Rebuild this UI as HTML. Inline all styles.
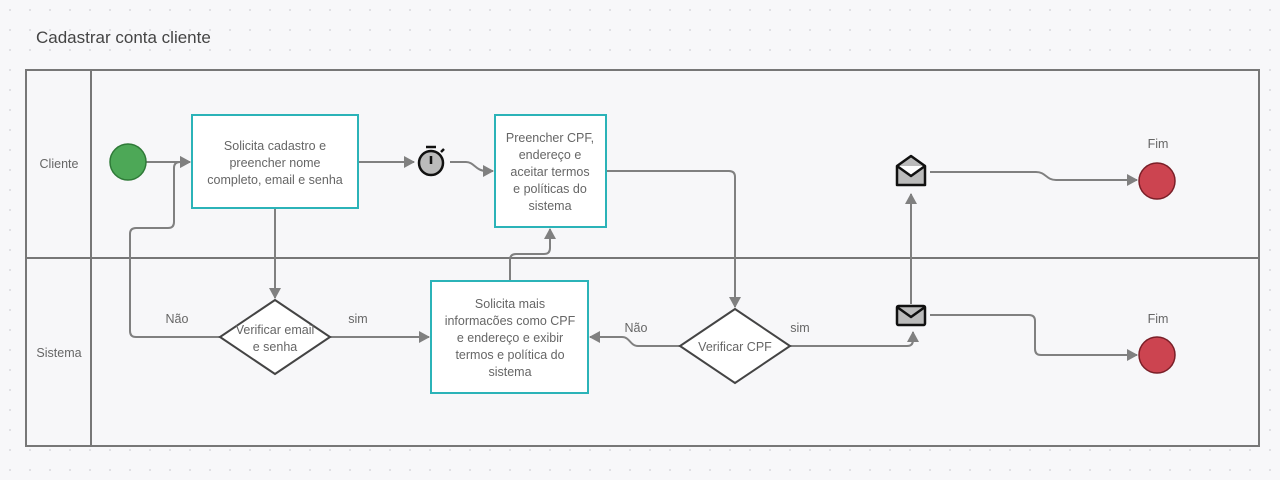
<!DOCTYPE html>
<html><head><meta charset="utf-8"><style>
body{margin:0;width:1280px;height:480px;overflow:hidden;background:#f7f7f9;}
svg{display:block;font-family:"Liberation Sans",sans-serif;}
</style></head><body>
<svg width="1280" height="480" viewBox="0 0 1280 480">
<defs>
<pattern id="dots" width="20" height="20" patternUnits="userSpaceOnUse"><circle cx="10" cy="10" r="1" fill="#d8d8de"/></pattern>
<marker id="a" markerWidth="12" markerHeight="12" refX="10" refY="6" orient="auto" markerUnits="userSpaceOnUse"><path d="M0,0 L11,6 L0,12 z" fill="#808080"/></marker>
</defs>
<rect width="1280" height="480" fill="#f7f7f9"/>
<rect width="1280" height="480" fill="url(#dots)"/>
<text x="36" y="43" font-size="17" fill="#444">Cadastrar conta cliente</text>
<rect x="26" y="70" width="1233" height="376" fill="#f7f7f9" stroke="#777" stroke-width="2"/>
<line x1="91" y1="70" x2="91" y2="446" stroke="#777" stroke-width="2"/>
<line x1="26" y1="258" x2="1259" y2="258" stroke="#777" stroke-width="2"/>
<g font-size="12.5" fill="#666" text-anchor="middle">
<text x="59" y="168">Cliente</text>
<text x="59" y="357">Sistema</text>
</g>
<g fill="none" stroke="#808080" stroke-width="2">
<path d="M146,162 H190" marker-end="url(#a)"/>
<path d="M220,337 H136 Q130,337 130,331 V234 Q130,228 136,228 H168 Q174,228 174,222 V168 Q174,162 180,162 H190" marker-end="url(#a)"/>
<path d="M275,208 V298" marker-end="url(#a)"/>
<path d="M358,162 H414" marker-end="url(#a)"/>
<path d="M450,162 H466 C474,162 476,171 486,171 H493" marker-end="url(#a)"/>
<path d="M330,337 H429" marker-end="url(#a)"/>
<path d="M510,281 V260 Q510,254 516,254 H544 Q550,254 550,248 V229" marker-end="url(#a)"/>
<path d="M606,171 H729 Q735,171 735,177 V307" marker-end="url(#a)"/>
<path d="M680,346 H638 C630,346 630,337 622,337 H590" marker-end="url(#a)"/>
<path d="M790,346 H907 Q913,346 913,340 V332" marker-end="url(#a)"/>
<path d="M911,304 V194" marker-end="url(#a)"/>
<path d="M930,172 H1036 C1046,172 1046,180 1056,180 H1137" marker-end="url(#a)"/>
<path d="M930,315 H1029 Q1035,315 1035,321 V349 Q1035,355 1041,355 H1137" marker-end="url(#a)"/>
</g>
<circle cx="128" cy="162" r="18" fill="#4da857" stroke="#2f7a38" stroke-width="1.5"/>
<rect x="192" y="115" width="166" height="93" fill="#fff" stroke="#2bb3b8" stroke-width="2"/>
<rect x="495" y="115" width="111" height="112" fill="#fff" stroke="#2bb3b8" stroke-width="2"/>
<rect x="431" y="281" width="157" height="112" fill="#fff" stroke="#2bb3b8" stroke-width="2"/>
<polygon points="275,300 330,337 275,374 220,337" fill="#fff" stroke="#444" stroke-width="2"/>
<polygon points="735,309 790,346 735,383 680,346" fill="#fff" stroke="#444" stroke-width="2"/>
<g stroke="#111" stroke-width="2.5">
<circle cx="431" cy="163" r="12" fill="#bbb"/>
<line x1="426" y1="147" x2="436" y2="147"/>
<line x1="431" y1="156" x2="431" y2="164"/>
<line x1="441" y1="152" x2="444" y2="149"/>
</g>
<g stroke="#111" stroke-width="2.5" stroke-linejoin="round">
<path d="M897,166 L911,156 L925,166 V185 H897 Z" fill="#bbb"/>
<path d="M897,166 L911,176 L925,166" fill="#fff"/>
</g>
<g stroke="#111" stroke-width="2.5" stroke-linejoin="round">
<rect x="897" y="306" width="28" height="19" rx="1.5" fill="#bbb"/>
<path d="M897,307 L911,317 L925,307" fill="none"/>
</g>
<circle cx="1157" cy="181" r="18" fill="#cc4450" stroke="#7a1f28" stroke-width="1.5"/>
<circle cx="1157" cy="355" r="18" fill="#cc4450" stroke="#7a1f28" stroke-width="1.5"/>
<g font-size="12.5" fill="#666" text-anchor="middle">
<text x="1158" y="148">Fim</text>
<text x="1158" y="323">Fim</text>
<text x="177" y="323">Não</text>
<text x="358" y="323">sim</text>
<text x="636" y="332">Não</text>
<text x="800" y="332">sim</text>
<text x="275" y="150">Solicita cadastro e</text>
<text x="275" y="167">preencher nome</text>
<text x="275" y="184">completo, email e senha</text>
<text x="550" y="142">Preencher CPF,</text>
<text x="550" y="159">endereço e</text>
<text x="550" y="176">aceitar termos</text>
<text x="550" y="193">e políticas do</text>
<text x="550" y="210">sistema</text>
<text x="510" y="308">Solicita mais</text>
<text x="510" y="325">informacões como CPF</text>
<text x="510" y="342">e endereço e exibir</text>
<text x="510" y="359">termos e política do</text>
<text x="510" y="376">sistema</text>
<text x="275" y="334">Verificar email</text>
<text x="275" y="351">e senha</text>
<text x="735" y="351">Verificar CPF</text>
</g>
</svg>
</body></html>
